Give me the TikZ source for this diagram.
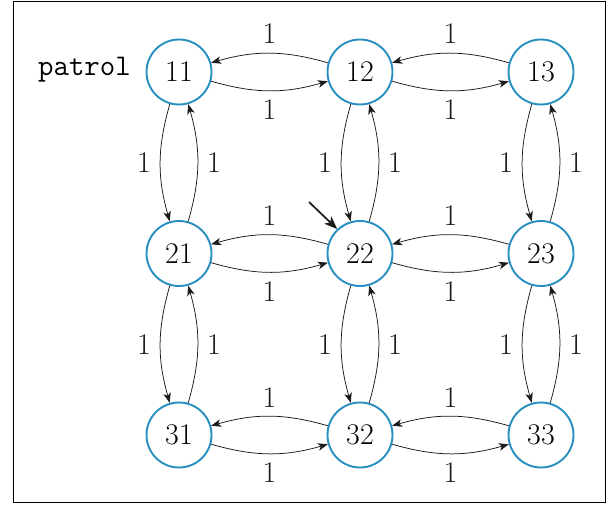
\documentclass[tikz,border=0pt]{standalone}
\usetikzlibrary{arrows.meta}
\definecolor{stateblue}{RGB}{38,143,191}
\begin{document}
\begin{tikzpicture}[x=1pt,y=1pt,
  every node/.style={font=\fontsize{30}{36}\selectfont},
  state/.style={circle,draw=stateblue,line width=1.9pt,minimum size=65pt,inner sep=0pt},
  tr/.style={-{Stealth[length=10pt,width=7.5pt,inset=2.8pt]},line width=0.75pt,black!90},
  initarrow/.style={-{Stealth[length=13pt,width=10pt,inset=3.5pt]},line width=1.7pt,black!90},
  lbl/.style={inner sep=9pt}
]
\useasboundingbox (0,0) rectangle (609,504);
\draw[line width=0.8pt] (13,1.5) rectangle (605,502.5);

\node[state] (11) at (179,432) {11};
\node[state] (12) at (360,432) {12};
\node[state] (13) at (541,432) {13};
\node[state] (21) at (179,250.5) {21};
\node[state] (22) at (360,250.5) {22};
\node[state] (23) at (541,250.5) {23};
\node[state] (31) at (179,69) {31};
\node[state] (32) at (360,69) {32};
\node[state] (33) at (541,69) {33};

\node[font=\ttfamily\fontsize{30}{36}\selectfont,anchor=east,inner sep=0pt] (patrol) at (131,434) {patrol};

\coordinate (init) at (309,302);
\draw[initarrow] (init) -- (22.133);

\foreach \a/\b in {11/12,12/13,21/22,22/23,31/32,32/33}{
  \draw[tr] (\b) to[bend right=16] node[above,lbl]{1} (\a);
  \draw[tr] (\a) to[bend right=16] node[below,lbl]{1} (\b);
}
\foreach \a/\b in {11/21,21/31,12/22,22/32,13/23,23/33}{
  \draw[tr] (\a) to[bend right=16] node[left,lbl]{1} (\b);
  \draw[tr] (\b) to[bend right=16] node[right,lbl]{1} (\a);
}
\end{tikzpicture}
\end{document}
